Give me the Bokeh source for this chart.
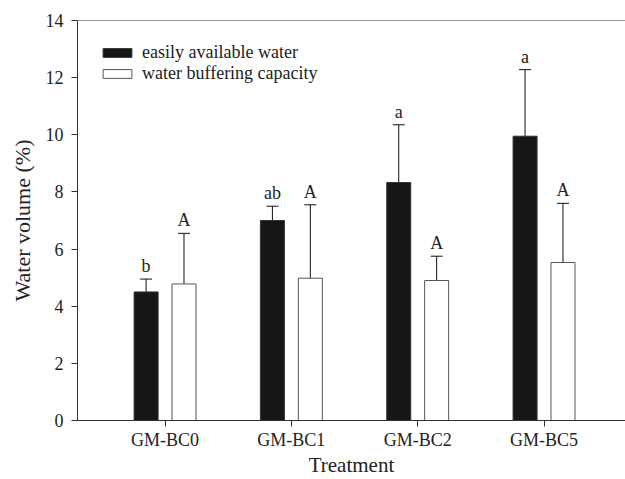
from bokeh.plotting import figure
from bokeh.models import (ColumnDataSource, FixedTicker, Whisker, TeeHead, Span,
                          Legend, LegendItem, Range1d)
from bokeh.embed import file_html
from bokeh.resources import INLINE

categories = ["GM-BC0", "GM-BC1", "GM-BC2", "GM-BC5"]
easy_water = [4.50, 7.00, 8.33, 9.95]
easy_err_top = [4.95, 7.50, 10.35, 12.28]
easy_letters = ["b", "ab", "a", "a"]
buffer_cap = [4.78, 4.98, 4.90, 5.53]
buffer_err_top = [6.55, 7.55, 5.75, 7.60]
buffer_letters = ["A", "A", "A", "A"]
y_ticks = [0, 2, 4, 6, 8, 10, 12, 14]

FONT = "Liberation Serif"
offset = 0.15
bar_w = 0.19
idx = list(range(len(categories)))

src_e = ColumnDataSource(dict(x=[i - offset for i in idx], top=easy_water,
                              up=easy_err_top, lab=easy_letters))
src_b = ColumnDataSource(dict(x=[i + offset for i in idx], top=buffer_cap,
                              up=buffer_err_top, lab=buffer_letters))

p = figure(width=625, height=479, output_backend="svg", toolbar_location=None,
           x_range=Range1d(-0.693, 3.645), y_range=Range1d(0, 14),
           min_border_left=77, min_border_right=0, min_border_top=20,
           min_border_bottom=59)
p.outline_line_color = None
p.xgrid.visible = False
p.ygrid.visible = False

r_e = p.vbar(x="x", top="top", width=bar_w, source=src_e, fill_color="#161616",
             line_color="#333333", line_width=1)
r_b = p.vbar(x="x", top="top", width=bar_w, source=src_b, fill_color="white",
             line_color="#555555", line_width=1)

for src in (src_e, src_b):
    w = Whisker(base="x", lower="top", upper="up", source=src, dimension="height",
                line_color="#111111", line_width=1,
                upper_head=TeeHead(size=12, line_color="#111111", line_width=1),
                lower_head=None)
    p.add_layout(w)
    p.text(x="x", y="up", text="lab", source=src, text_align="center",
           text_baseline="bottom", y_offset=-3, text_font=FONT,
           text_font_size="18px", text_color="#222222")

p.add_layout(Span(location=14, dimension="width", line_color="#333333", line_width=1))

p.xaxis.ticker = FixedTicker(ticks=idx)
p.xaxis.major_label_overrides = {i: c for i, c in zip(idx, categories)}
p.yaxis.ticker = FixedTicker(ticks=y_ticks)
p.xaxis.axis_label = "Treatment"
p.yaxis.axis_label = "Water volume (%)"
for ax in (p.xaxis, p.yaxis):
    ax.axis_label_text_font = FONT
    ax.axis_label_text_font_style = "normal"
    ax.axis_label_text_font_size = "21px"
    ax.axis_label_text_color = "#222222"
    ax.major_label_text_font = FONT
    ax.major_label_text_font_size = "18px"
    ax.major_label_text_color = "#222222"
    ax.axis_line_color = "#333333"
    ax.major_tick_line_color = "#333333"
    ax.major_tick_out = 6
    ax.major_tick_in = 0
    ax.minor_tick_line_color = None
p.xaxis.major_label_standoff = 3
p.xaxis.axis_label_standoff = 0
p.yaxis.major_label_standoff = 8
p.yaxis.axis_label_standoff = 8
p.yaxis.axis_label_text_font_size = "22px"

legend = Legend(items=[LegendItem(label="easily available water", renderers=[r_e]),
                       LegendItem(label="water buffering capacity", renderers=[r_b])],
                location=(22, 336), orientation="vertical")
legend.glyph_width = 36
legend.glyph_height = 11
legend.label_height = 20
legend.spacing = 0
legend.padding = 0
legend.margin = 0
legend.label_standoff = 7
legend.border_line_alpha = 0
legend.background_fill_alpha = 0
legend.label_text_font = FONT
legend.label_text_font_size = "18px"
legend.label_text_color = "#222222"
p.add_layout(legend)

open("out.html", "w").write(file_html(p, INLINE))
